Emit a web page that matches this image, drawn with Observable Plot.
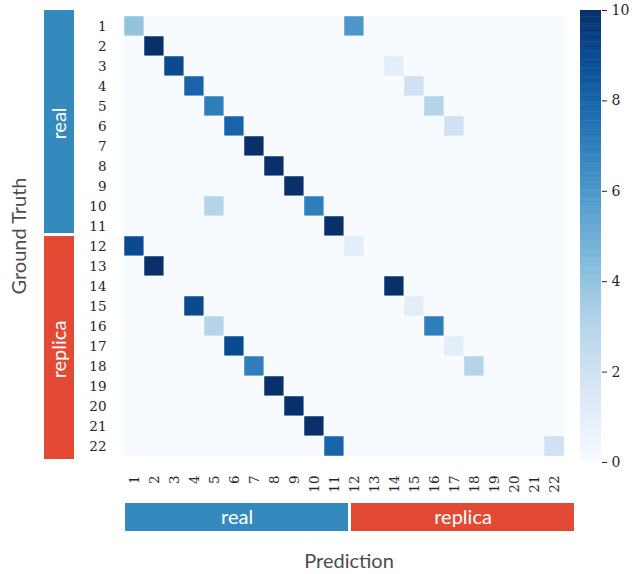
<!DOCTYPE html>
<html>
<head>
<meta charset="utf-8">
<script src="https://cdn.jsdelivr.net/npm/d3@7"></script>
<script src="https://cdn.jsdelivr.net/npm/@observablehq/plot@0.6"></script>
<style>
  html, body { margin: 0; padding: 0; background: #fff; }
  #wrap { position: relative; width: 632px; height: 574px; overflow: hidden; }
  .abs { position: absolute; }
  .abs svg { max-width: none !important; }
  .lab { position: absolute; font-family: Lato, sans-serif; font-size: 20px; line-height: 20px; color: #4d4d4d; white-space: nowrap; }
</style>
</head>
<body>
<div id="wrap"></div>
<script>
// ---- data ----
const classLabels = d3.range(1, 23).map(String);           // tick labels 1..22
const groupNames = ["real", "replica"];
const groupStart = [0, 11];
const groupEnd = [11, 22];
const groupColors = ["#348ABD", "#E24A33"];
// non-zero confusion-matrix entries (ground truth row, predicted column, count)
const truthRow = [1, 1, 2, 3, 3, 4, 4, 5, 5, 6, 6, 7, 8, 9, 10, 10, 11, 12, 12, 13, 14, 15, 15, 16, 16, 17, 17, 18, 18, 19, 20, 21, 22, 22];
const predCol  = [1, 12, 2, 3, 14, 4, 15, 5, 16, 6, 17, 7, 8, 9, 5, 10, 11, 1, 12, 2, 14, 4, 15, 5, 16, 6, 17, 7, 18, 8, 9, 10, 11, 22];
const counts   = [4, 6, 10, 9, 1, 8, 2, 7, 3, 8, 2, 10, 10, 10, 3, 7, 10, 9, 1, 10, 10, 9, 1, 3, 7, 9, 1, 7, 3, 10, 10, 10, 8, 2];
const colorTicks = [0, 2, 4, 6, 8, 10];

// ---- build table ----
const lookup = new Map();
truthRow.forEach((t, i) => lookup.set(t + "_" + predCol[i], counts[i]));
const cells = [];
for (const t of classLabels) for (const p of classLabels)
  cells.push({truth: t, pred: p, value: lookup.get(t + "_" + p) || 0});
const groups = groupNames.map((g, i) => ({name: g, from: groupStart[i], to: groupEnd[i], color: groupColors[i]}));

const wrap = document.getElementById("wrap");
function place(el, left, top) {
  const d = document.createElement("div");
  d.className = "abs"; d.style.left = left + "px"; d.style.top = top + "px";
  el.style.maxWidth = "none";
  d.appendChild(el); wrap.appendChild(d);
}
const colorScale = {type: "linear", scheme: "blues", domain: [0, 10]};

// ---- main heatmap ----
const main = Plot.plot({
  width: 632, height: 574,
  marginLeft: 118, marginRight: 62, marginTop: 10, marginBottom: 112,
  style: {fontFamily: "'DejaVu Serif', serif", fontSize: "13.5px", color: "#262626", background: "transparent"},
  x: {type: "band", domain: classLabels, padding: 0, tickSize: 0, tickPadding: 13, tickRotate: -90, label: null},
  y: {type: "band", domain: classLabels, padding: 0, tickSize: 0, tickPadding: 12, label: null},
  color: colorScale,
  marks: [
    Plot.cell(cells, {x: "pred", y: "truth", fill: "value", stroke: "#f7fbff", strokeWidth: 0.5})
  ]
});
place(main, 0, 0);

// ---- left group band ----
const leftBand = Plot.plot({
  width: 30, height: 452, margin: 0,
  x: {domain: [0, 1], axis: null},
  y: {domain: [0, 22], reverse: true, axis: null},
  marks: [
    Plot.rect(groups, {x1: 0, x2: 1, y1: "from", y2: "to", fill: "color", insetBottom: 3}),
    Plot.text(groups, {x: 0.5, y: d => (d.from + d.to) / 2, text: "name", rotate: -90, fill: "white",
      fontSize: 20, fontFamily: "Lato, sans-serif"})
  ]
});
place(leftBand, 44, 10);

// ---- bottom group band ----
const bottomBand = Plot.plot({
  width: 452, height: 28, margin: 0,
  x: {domain: [0, 22], axis: null},
  y: {domain: [0, 1], axis: null},
  marks: [
    Plot.rect(groups, {y1: 0, y2: 1, x1: "from", x2: "to", fill: "color", insetRight: 3}),
    Plot.text(groups, {y: 0.5, x: d => (d.from + d.to) / 2 - 0.07, text: "name", fill: "white",
      fontSize: 20, fontFamily: "Lato, sans-serif"})
  ]
});
place(bottomBand, 125, 503);

// ---- colorbar ----
const steps = d3.range(0, 10, 0.05);
const colorbar = Plot.plot({
  width: 52, height: 474,
  marginLeft: 0, marginRight: 31, marginTop: 10, marginBottom: 12,
  style: {fontFamily: "'DejaVu Serif', serif", fontSize: "14px", color: "#262626", background: "transparent", overflow: "visible"},
  x: {domain: [0, 1], axis: null},
  y: {domain: [0, 10], axis: "right", ticks: colorTicks, tickSize: 5, tickPadding: 5, label: null},
  color: colorScale,
  marks: [
    Plot.rect(steps, {x1: 0, x2: 1, y1: d => d, y2: d => Math.min(10, d + 0.06), fill: d => d + 0.025})
  ]
});
place(colorbar, 580, 0);

// ---- axis titles ----
const gt = document.createElement("div");
gt.className = "lab"; gt.textContent = "Ground Truth";
gt.style.left = "18px"; gt.style.top = "236px";
gt.style.transform = "translate(-50%,-50%) rotate(-90deg)";
wrap.appendChild(gt);

const pr = document.createElement("div");
pr.className = "lab"; pr.textContent = "Prediction";
pr.style.left = "349px"; pr.style.top = "550px";
pr.style.transform = "translateX(-50%)";
wrap.appendChild(pr);
</script>
</body>
</html>
